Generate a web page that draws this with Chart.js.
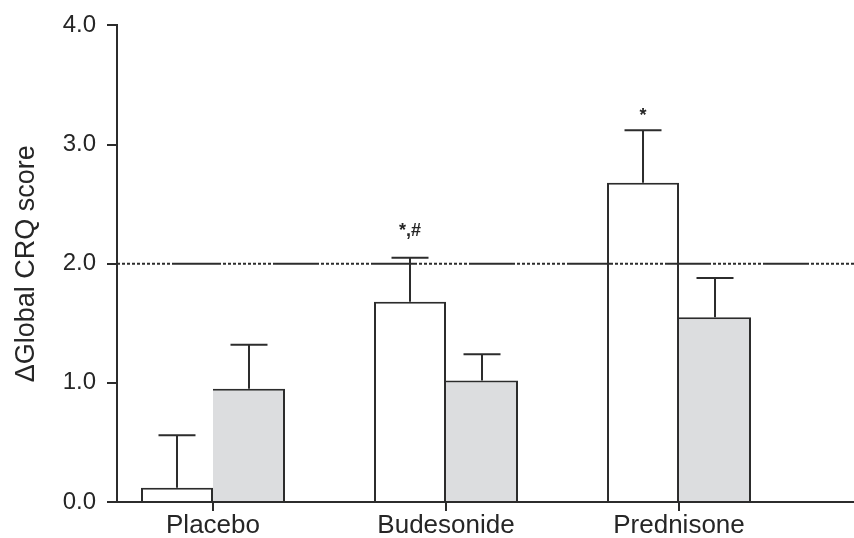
<!DOCTYPE html>
<html>
<head>
<meta charset="utf-8">
<script src="https://cdn.jsdelivr.net/npm/chart.js@4.4.1/dist/chart.umd.min.js"></script>
<style>
  html, body { margin: 0; padding: 0; background: #fff; overflow: hidden; }
  #wrap { width: 854px; height: 538px; position: relative; }
</style>
</head>
<body>
<div id="wrap"><canvas id="c" width="854" height="538"></canvas></div>
<script>
// Treatment groups and change in global CRQ score (mean with upper SEM whisker)
const categories = ['Placebo', 'Budesonide', 'Prednisone'];
const openMeans  = [0.12, 1.68, 2.68];
const openErr    = [0.44, 0.37, 0.44];
const greyMeans  = [0.95, 1.02, 1.55];
const greyErr    = [0.37, 0.22, 0.33];
const yTickValues = [0, 1, 2, 3, 4];
const clinicalThreshold = 2.0;
const significance = ['', '*,#', '*'];

const INK = '#262626';
const LINE = '#2c2c2c';
const FONT = "'Liberation Sans', Arial, Helvetica, sans-serif";
Chart.defaults.font.family = FONT;
Chart.defaults.color = INK;

// vertical lift (px) of each significance mark above its whisker cap
const markLift = [0, 22, 9];

const overlay = {
  id: 'overlay',
  afterDatasetsDraw(chart) {
    const { ctx, chartArea: a, scales: { x, y } } = chart;
    ctx.save();
    ctx.strokeStyle = LINE;
    ctx.lineWidth = 2;

    // threshold line: dotted run from the axis, then alternating solid / dotted
    const yy = y.getPixelForValue(clinicalThreshold);
    const split = a.left + 58;
    ctx.setLineDash([3, 2]);
    ctx.beginPath(); ctx.moveTo(a.left, yy); ctx.lineTo(split, yy); ctx.stroke();
    const dots = [];
    for (let k = 0; k < 10; k++) dots.push(3, 2);
    ctx.setLineDash([46, 2].concat(dots));
    ctx.beginPath(); ctx.moveTo(split, yy); ctx.lineTo(a.right, yy); ctx.stroke();
    ctx.setLineDash([]);

    // upper error whiskers
    const sets = [[openMeans, openErr], [greyMeans, greyErr]];
    sets.forEach(([means, errs], di) => {
      const meta = chart.getDatasetMeta(di);
      meta.data.forEach((bar, i) => {
        const top = y.getPixelForValue(means[i] + errs[i]);
        ctx.beginPath();
        ctx.moveTo(bar.x, bar.y);
        ctx.lineTo(bar.x, top);
        ctx.moveTo(bar.x - 18.5, top);
        ctx.lineTo(bar.x + 18.5, top);
        ctx.stroke();
      });
    });

    // significance marks above the open bars
    const meta0 = chart.getDatasetMeta(0);
    ctx.fillStyle = INK;
    ctx.font = 'bold 18px ' + FONT;
    ctx.textAlign = 'center';
    ctx.textBaseline = 'alphabetic';
    significance.forEach((txt, i) => {
      if (!txt) return;
      const top = y.getPixelForValue(openMeans[i] + openErr[i]);
      ctx.fillText(txt, meta0.data[i].x, top - markLift[i]);
    });
    ctx.restore();
  },
  afterDraw(chart) {
    // category tick marks hanging below the x axis
    const { ctx, scales: { x } } = chart;
    const base = x.top;
    ctx.save();
    ctx.fillStyle = LINE;
    categories.forEach((c, i) => {
      const px = Math.round(x.getPixelForValue(i));
      ctx.fillRect(px - 1, base, 2, 9);
    });
    ctx.restore();
  }
};

new Chart(document.getElementById('c'), {
  type: 'bar',
  data: {
    datasets: [
      {
        label: 'open',
        data: openMeans.map((v, i) => ({ x: i, y: v })),
        backgroundColor: '#ffffff',
        borderColor: LINE,
        borderWidth: { top: 2, left: 2, right: 2, bottom: 0 },
        borderSkipped: false,
        categoryPercentage: 0.618,
        barPercentage: 1
      },
      {
        label: 'grey',
        data: greyMeans.map((v, i) => ({ x: i, y: v })),
        backgroundColor: '#dcdddf',
        borderColor: LINE,
        borderWidth: { top: 2, left: 0, right: 2, bottom: 0 },
        borderSkipped: false,
        categoryPercentage: 0.618,
        barPercentage: 1
      }
    ]
  },
  options: {
    responsive: false,
    animation: false,
    devicePixelRatio: 1,
    layout: { padding: { top: 22, left: 0, right: 0, bottom: 0 } },
    plugins: { legend: { display: false }, tooltip: { enabled: false } },
    scales: {
      x: {
        type: 'linear',
        offset: false,
        min: -0.412,
        max: 2.751,
        afterBuildTicks: s => { s.ticks = categories.map((c, i) => ({ value: i })); },
        afterFit: s => { s.height = 36; },
        ticks: {
          callback: v => categories[v],
          font: { size: 26 },
          color: INK,
          padding: 0,
          autoSkip: false,
          maxRotation: 0
        },
        grid: { offset: false, drawOnChartArea: false, drawTicks: true, tickLength: 8, color: LINE, lineWidth: 2 },
        border: { display: true, color: LINE, width: 2 }
      },
      y: {
        min: 0,
        max: 4,
        afterBuildTicks: s => { s.ticks = yTickValues.map(v => ({ value: v })); },
        afterFit: s => { s.width = 117; },
        ticks: {
          callback: v => v.toFixed(1),
          font: { size: 24 },
          color: INK,
          padding: 11
        },
        grid: { drawOnChartArea: false, drawTicks: true, tickLength: 10, color: LINE, lineWidth: 2 },
        border: { display: true, color: LINE, width: 2 },
        title: {
          display: true,
          text: 'ΔGlobal CRQ score',
          font: { size: 27, lineHeight: 1.2 },
          color: INK,
          padding: { top: 10, bottom: 0 }
        }
      }
    }
  },
  plugins: [overlay]
});
</script>
</body>
</html>
